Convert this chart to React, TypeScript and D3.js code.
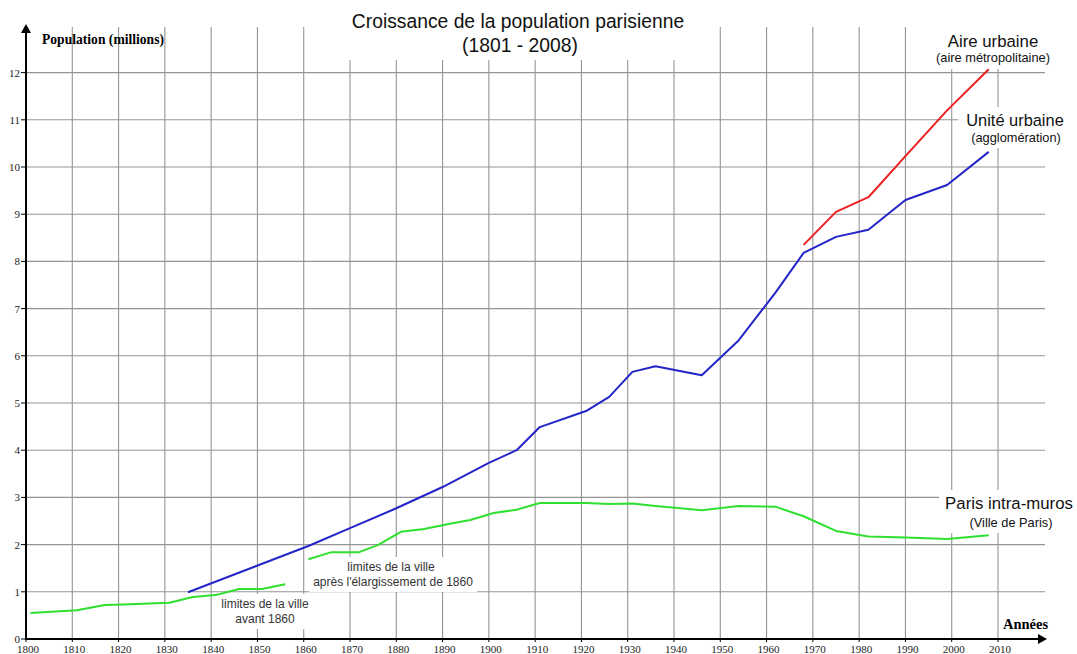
import React, { useEffect, useRef } from 'react'
import * as d3 from 'd3'

// Paris intra-muros, before the 1860 annexation
const parisBeforeYears = [1801, 1811, 1817, 1821, 1831, 1836, 1841, 1846, 1851, 1856]
const parisBeforeValues = [0.55, 0.61, 0.72, 0.73, 0.77, 0.89, 0.93, 1.06, 1.06, 1.16]

// Paris intra-muros, after the 1860 annexation
const parisAfterYears = [
  1861, 1866, 1872, 1876, 1881, 1886, 1891, 1896, 1901, 1906, 1911, 1921, 1926, 1931, 1936, 1946, 1954,
  1962, 1968, 1975, 1982, 1990, 1999, 2008
]
const parisAfterValues = [
  1.69, 1.84, 1.84, 1.99, 2.27, 2.33, 2.43, 2.52, 2.67, 2.74, 2.88, 2.88, 2.86, 2.87, 2.82, 2.73, 2.82,
  2.8, 2.6, 2.29, 2.17, 2.15, 2.12, 2.2
]

// Unité urbaine (agglomération)
const uniteYears = [
  1835, 1861, 1870, 1880, 1890, 1900, 1906, 1911, 1921, 1926, 1931, 1936, 1946, 1954, 1962, 1968, 1975,
  1982, 1990, 1999, 2008
]
const uniteValues = [
  0.99, 1.97, 2.35, 2.77, 3.22, 3.73, 4.0, 4.49, 4.83, 5.13, 5.66, 5.78, 5.59, 6.33, 7.35, 8.18, 8.52,
  8.67, 9.3, 9.62, 10.32
]

// Aire urbaine (aire métropolitaine)
const aireYears = [1968, 1975, 1982, 1990, 1999, 2008]
const aireValues = [8.35, 9.05, 9.36, 10.23, 11.2, 12.07]

const xTicks = d3.range(1800, 2011, 10)
const yTicks = d3.range(0, 13, 1)

const W = 1077
const H = 654

export default function App() {
  const ref = useRef<SVGSVGElement>(null)

  useEffect(() => {
    const svg = d3.select(ref.current)
    svg.selectAll('*').remove()

    const x = d3.scaleLinear().domain([1800, 2010]).range([26, 998])
    const y = d3.scaleLinear().domain([0, 12]).range([639, 72.6])
    const gridTop = 27
    const gridRight = 1045

    const grid = svg.append('g').attr('stroke', '#959595').attr('stroke-width', 1.1)
    xTicks
      .filter(t => t > 1800)
      .forEach(t => {
        grid.append('line').attr('x1', x(t)).attr('x2', x(t)).attr('y1', gridTop).attr('y2', y(0))
      })
    yTicks
      .filter(t => t > 0)
      .forEach(t => {
        grid.append('line').attr('x1', x(1800)).attr('x2', gridRight).attr('y1', y(t)).attr('y2', y(t))
      })

    // text labels that sit on a white box hiding the grid
    const boxed = (lines: { text: string; x: number; y: number; size: number; color?: string }[], pad: number[]) => {
      const g = svg.append('g')
      const rect = g.append('rect').attr('fill', '#fff')
      lines.forEach(l => {
        g.append('text')
          .attr('x', l.x)
          .attr('y', l.y)
          .attr('text-anchor', 'middle')
          .attr('font-family', 'Liberation Sans, Arial, sans-serif')
          .attr('font-size', l.size)
          .attr('fill', l.color || '#111')
          .text(l.text)
      })
      const b = (g.node() as SVGGElement).getBBox()
      rect
        .attr('x', b.x - pad[3])
        .attr('y', b.y - pad[0])
        .attr('width', b.width + pad[1] + pad[3])
        .attr('height', b.height + pad[0] + pad[2])
    }

    boxed(
      [
        { text: 'Croissance de la population parisienne', x: 518, y: 28, size: 19.3 },
        { text: '(1801 - 2008)', x: 520, y: 52, size: 19.3 }
      ],
      [30, 8, 4, 8]
    )
    boxed(
      [
        { text: 'Aire urbaine', x: 993, y: 47, size: 16.8 },
        { text: '(aire métropolitaine)', x: 993, y: 62, size: 12.8 }
      ],
      [5, 6, 4, 6]
    )
    boxed(
      [
        { text: 'Unité urbaine', x: 1015, y: 126, size: 16.4 },
        { text: '(agglomération)', x: 1016, y: 142, size: 12.8 }
      ],
      [4, 6, 3, 8]
    )
    boxed(
      [
        { text: 'Paris intra-muros', x: 1009, y: 509, size: 16.8 },
        { text: '(Ville de Paris)', x: 1011, y: 527, size: 12.8 }
      ],
      [4, 4, 3, 6]
    )
    boxed(
      [
        { text: 'limites de la ville', x: 391, y: 571, size: 12, color: '#333' },
        { text: "après l'élargissement de 1860", x: 393, y: 586, size: 12, color: '#333' }
      ],
      [3, 4, 3, 4]
    )
    boxed(
      [
        { text: 'limites de la ville', x: 265, y: 608, size: 12, color: '#333' },
        { text: 'avant 1860', x: 265, y: 623, size: 12, color: '#333' }
      ],
      [3, 4, 3, 4]
    )

    // axes
    const axes = svg.append('g').attr('stroke', '#000')
    axes.append('line').attr('x1', x(1800)).attr('x2', x(1800)).attr('y1', y(0) + 1).attr('y2', 32).attr('stroke-width', 2)
    axes.append('line').attr('x1', x(1800) - 1).attr('x2', 1040).attr('y1', y(0)).attr('y2', y(0)).attr('stroke-width', 2)
    axes
      .append('path')
      .attr('d', `M${x(1800) - 5},${33} L${x(1800)},${24} L${x(1800) + 5},${33} Z`)
      .attr('fill', '#000')
      .attr('stroke', 'none')
    axes
      .append('path')
      .attr('d', `M${1038},${y(0) - 5} L${1047},${y(0)} L${1038},${y(0) + 5} Z`)
      .attr('fill', '#000')
      .attr('stroke', 'none')
    yTicks.forEach(t => {
      axes.append('line').attr('x1', x(1800) - 5).attr('x2', x(1800)).attr('y1', y(t)).attr('y2', y(t)).attr('stroke-width', 1)
    })
    xTicks.forEach(t => {
      axes.append('line').attr('x1', x(t)).attr('x2', x(t)).attr('y1', y(0)).attr('y2', y(0) + 3).attr('stroke-width', 1)
    })

    const labels = svg.append('g').attr('font-family', 'Liberation Serif, Times New Roman, serif').attr('fill', '#222')
    yTicks.forEach(t => {
      labels
        .append('text')
        .attr('x', x(1800) - 6)
        .attr('y', y(t) + 4)
        .attr('text-anchor', 'end')
        .attr('font-size', 11)
        .text(t)
    })
    xTicks.forEach(t => {
      labels
        .append('text')
        .attr('x', x(t) + 2)
        .attr('y', 653)
        .attr('text-anchor', 'middle')
        .attr('font-size', 11)
        .text(t)
    })
    labels
      .append('text')
      .attr('x', 42)
      .attr('y', 44)
      .attr('font-size', 13.6)
      .attr('font-weight', 'bold')
      .attr('fill', '#000')
      .text('Population (millions)')
    labels
      .append('text')
      .attr('x', 1003)
      .attr('y', 629)
      .attr('font-size', 14.5)
      .attr('font-weight', 'bold')
      .attr('fill', '#000')
      .text('Années')

    // series
    const line = d3
      .line<[number, number]>()
      .x(d => x(d[0]))
      .y(d => y(d[1]))
    const series = [
      { years: parisBeforeYears, values: parisBeforeValues, color: '#2fe02f' },
      { years: parisAfterYears, values: parisAfterValues, color: '#2fe02f' },
      { years: uniteYears, values: uniteValues, color: '#2424c8' },
      { years: aireYears, values: aireValues, color: '#ec2020' }
    ]
    series.forEach(s => {
      svg
        .append('path')
        .datum(s.years.map((yr, i) => [yr, s.values[i]] as [number, number]))
        .attr('d', line)
        .attr('fill', 'none')
        .attr('stroke', s.color)
        .attr('stroke-width', 2)
        .attr('stroke-linejoin', 'round')
    })
  }, [])

  return (
    <svg
      ref={ref}
      width={W}
      height={H}
      style={{ position: 'absolute', left: 0, top: 0, background: '#fff' }}
    />
  )
}
